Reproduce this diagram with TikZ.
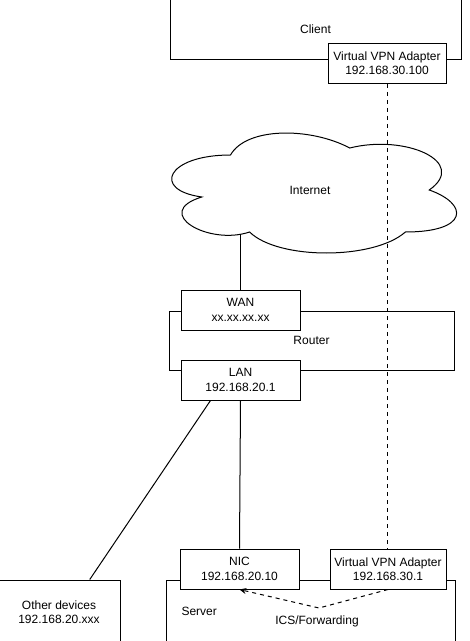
\documentclass[tikz,border=0pt]{standalone}
\usepackage{fontspec}
\setmainfont{Liberation Sans}
\usetikzlibrary{arrows.meta,calc}

\begin{document}
\begin{tikzpicture}[x=0.75pt,y=-0.75pt,line width=0.75pt,
  box/.style={draw,fill=white,inner sep=0pt,align=center,font=\fontsize{9}{10.8}\selectfont},
  txt/.style={inner sep=0pt,align=center,font=\fontsize{9}{10.8}\selectfont}]
\clip (0,0) rectangle (469,641);

\node[box,minimum width=218.25pt,minimum height=46.5pt] (client) at (315.5,29) {Client};
\node[box,minimum width=88.5pt,minimum height=30pt] (vpnc) at (387,63.5) {Virtual VPN Adapter\\192.168.30.100};

\draw (230.5,155) .. controls (166.9,155) and (151,190) .. (201.88,197)
  .. controls (151,212.4) and (208.24,246) .. (249.58,232)
  .. controls (278.2,260) and (373.6,260) .. (405.4,232)
  .. controls (469,232) and (469,204) .. (429.25,190)
  .. controls (469,162) and (405.4,134) .. (349.75,148)
  .. controls (310,127) and (246.4,127) .. (230.5,155) -- cycle;
\node[txt] (inet) at (310,190) {Internet};
\coordinate (inetfoot) at (240.5,234.5);

\node[box,minimum width=213.75pt,minimum height=44.25pt] (router) at (311.5,340.5) {Router};
\node[box,minimum width=89.25pt,minimum height=30pt] (wan) at (240.5,310) {WAN\\xx.xx.xx.xx};
\node[box,minimum width=89.25pt,minimum height=30pt] (lan) at (240.5,380) {LAN\\192.168.20.1};

\node[box,minimum width=216.75pt,minimum height=60pt] (server) at (310.5,620) {};
\node[txt,anchor=west] (srvlbl) at (181,611) {Server};
\node[box,minimum width=89.25pt,minimum height=30pt] (nic) at (239.5,569) {NIC\\192.168.20.10};
\node[box,minimum width=87pt,minimum height=30pt] (vpns) at (388,569) {Virtual VPN Adapter\\192.168.30.1};

\node[box,minimum width=91.5pt,minimum height=48.75pt] (other) at (59,612.5) {Other devices\\192.168.20.xxx};

\draw (inetfoot) -- (inetfoot |- wan.north);
\draw (lan.south) -- (nic.north);
\draw ($(lan.south west)!0.25!(lan.south east)$) -- ($(other.north west)!0.75!(other.north east)$);
\draw[dashed] (vpnc.south) -- (vpnc.south |- vpns.north);

\coordinate (icsbend) at (319,608);
\draw[dashed,-{Stealth[length=5pt,width=4.5pt]}] (vpns.south) -- (icsbend) -- (nic.south);
\node[txt] (ics) at (317,621) {ICS/Forwarding};

\end{tikzpicture}
\end{document}
